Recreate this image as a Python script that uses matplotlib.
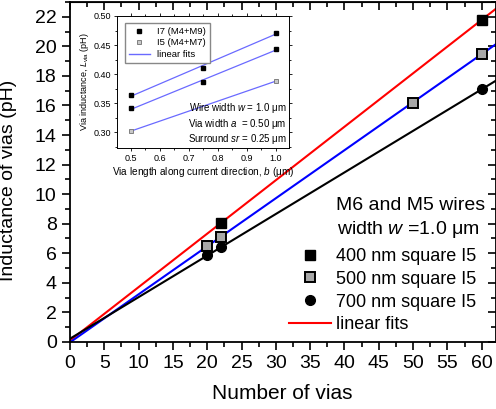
import matplotlib
matplotlib.use("Agg")
import matplotlib.pyplot as plt
from matplotlib.ticker import MultipleLocator, FormatStrFormatter
from matplotlib.lines import Line2D
import numpy as np

plt.rcParams['font.family'] = ['Liberation Sans', 'DejaVu Sans']
plt.rcParams['mathtext.fontset'] = 'custom'
plt.rcParams['mathtext.it'] = 'Liberation Sans:italic'
plt.rcParams['mathtext.rm'] = 'Liberation Sans'

# main panel: inductance vs number of vias
vias_400 = [22, 60]
ind_400 = [8.05, 21.8]
vias_500 = [20, 22, 50, 60]
ind_500 = [6.5, 7.1, 16.2, 19.5]
vias_700 = [20, 22, 60]
ind_700 = [5.85, 6.4, 17.1]

# inset: via inductance vs via length
b_i7 = [0.5, 0.75, 1.0]
L_i7_a = [0.364, 0.411, 0.471]
L_i7_b = [0.341, 0.387, 0.443]
b_i5 = [0.5, 1.0]
L_i5 = [0.302, 0.388]

fig = plt.figure(figsize=(4.96, 4.09), dpi=100)
ax = fig.add_axes([0.141, 0.164, 0.858, 0.831])

xfit = np.array([0, 62])
for xs, ys, col in [(vias_400, ind_400, '#ff0000'),
                    (vias_500, ind_500, '#0000ff'),
                    (vias_700, ind_700, 'black')]:
    k, c = np.polyfit(xs, ys, 1)
    ax.plot(xfit, k * xfit + c, color=col, lw=1.5, zorder=2)

ax.plot(vias_400, ind_400, 's', color='black', ms=6.5, zorder=3)
ax.plot(vias_500, ind_500, 's', mfc='#a8a8a8', mec='black', mew=1.4, ms=6.5, zorder=3)
ax.plot(vias_700, ind_700, 'o', color='black', ms=7, zorder=3)

ax.set_xlim(0, 62)
ax.set_ylim(0, 23)
ax.xaxis.set_major_locator(MultipleLocator(5))
ax.xaxis.set_minor_locator(MultipleLocator(2.5))
ax.yaxis.set_major_locator(MultipleLocator(2))
ax.yaxis.set_minor_locator(MultipleLocator(1))
ax.tick_params(which='both', direction='out', width=1.2, labelsize=14)
ax.tick_params(which='major', length=6)
ax.tick_params(which='minor', length=3.5)
for s in ax.spines.values():
    s.set_linewidth(1.3)

# mirrored ticks on top and right, pointing inwards
top = ax.secondary_xaxis('top')
top.xaxis.set_major_locator(MultipleLocator(5))
top.xaxis.set_minor_locator(MultipleLocator(2.5))
top.tick_params(which='both', direction='in', width=1.2, labeltop=False)
top.tick_params(which='major', length=6)
top.tick_params(which='minor', length=3.5)
right = ax.secondary_yaxis('right')
right.yaxis.set_major_locator(MultipleLocator(2))
right.yaxis.set_minor_locator(MultipleLocator(1))
right.tick_params(which='both', direction='in', width=1.2, labelright=False)
right.tick_params(which='major', length=6)
right.tick_params(which='minor', length=3.5)

ax.set_xlabel('Number of vias', fontsize=15)
ax.xaxis.set_label_coords(0.5, -0.125)
ax.set_ylabel('Inductance of vias (pH)', fontsize=14)
ax.yaxis.set_label_coords(-0.125, 0.476)

ax.text(0.976, 0.40, 'M6 and M5 wires', transform=ax.transAxes, ha='right', va='center', fontsize=14)
ax.text(0.962, 0.33, r'width $w$ =1.0 $\mathrm{\mu}$m', transform=ax.transAxes, ha='right', va='center', fontsize=14)

handles = [
    Line2D([], [], ls='none', marker='s', color='black', ms=6.5),
    Line2D([], [], ls='none', marker='s', mfc='#a8a8a8', mec='black', mew=1.4, ms=6.5),
    Line2D([], [], ls='none', marker='o', color='black', ms=7),
    Line2D([], [], color='#ff0000', lw=1.5),
]
labels = ['400 nm square I5', '500 nm square I5', '700 nm square I5', 'linear fits']
ax.legend(handles, labels, loc='lower right', bbox_to_anchor=(0.985, -0.012), frameon=False,
          fontsize=13, handlelength=2.3, handletextpad=0.3, labelspacing=0.32, borderpad=0.2)

# inset
ins = fig.add_axes([0.236, 0.638, 0.347, 0.323])
xin = np.array([0.5, 1.0])
for xs, ys in [(b_i7, L_i7_a), (b_i7, L_i7_b), (b_i5, L_i5)]:
    k, c = np.polyfit(xs, ys, 1)
    ins.plot(xin, k * xin + c, color='#6a6aff', lw=0.9, zorder=2)
ins.plot(b_i7, L_i7_a, 's', color='black', ms=3, zorder=3)
ins.plot(b_i7, L_i7_b, 's', color='black', ms=3, zorder=3)
ins.plot(b_i5, L_i5, 's', mfc='#c8c8c8', mec='#707070', mew=0.6, ms=3, zorder=3)

ins.set_xlim(0.453, 1.046)
ins.set_ylim(0.273, 0.50)
ins.xaxis.set_major_locator(MultipleLocator(0.1))
ins.xaxis.set_minor_locator(MultipleLocator(0.05))
ins.yaxis.set_major_locator(MultipleLocator(0.05))
ins.yaxis.set_minor_locator(MultipleLocator(0.025))
ins.yaxis.set_major_formatter(FormatStrFormatter('%.2f'))
ins.tick_params(which='both', direction='out', width=0.6, labelsize=6.5, pad=2)
ins.tick_params(which='major', length=2.5)
ins.tick_params(which='minor', length=1.5)
ins.tick_params(axis='both', which='both', top=True, right=True)
for s in ins.spines.values():
    s.set_linewidth(0.7)
ins.set_xlabel(r'Via length along current direction, $b$ ($\mathrm{\mu}$m)', fontsize=7.2, labelpad=1.5)
ins.set_ylabel(r'Via inductance, $L_{\mathrm{via}}$ (pH)', fontsize=6.5, labelpad=2)

ih = [
    Line2D([], [], ls='none', marker='s', color='black', ms=3),
    Line2D([], [], ls='none', marker='s', mfc='#c8c8c8', mec='#707070', mew=0.6, ms=3),
    Line2D([], [], color='#6a6aff', lw=1.0),
]
ins.legend(ih, ['I7 (M4+M9)', 'I5 (M4+M7)', 'linear fits'], loc='upper left',
           fontsize=6.8, frameon=True, fancybox=False, edgecolor='#888888',
           framealpha=1, handlelength=2.2, labelspacing=0.25, borderpad=0.4,
           bbox_to_anchor=(0.02, 0.98))

ins.text(0.985, 0.30, r'Wire width $w$ = 1.0 $\mathrm{\mu}$m', transform=ins.transAxes,
         ha='right', va='center', fontsize=7)
ins.text(0.985, 0.185, r'Via width $a$  = 0.50 $\mathrm{\mu}$m', transform=ins.transAxes,
         ha='right', va='center', fontsize=7)
ins.text(0.985, 0.07, r'Surround $sr$ = 0.25 $\mathrm{\mu}$m', transform=ins.transAxes,
         ha='right', va='center', fontsize=7)

fig.savefig('out.png', dpi=100)
